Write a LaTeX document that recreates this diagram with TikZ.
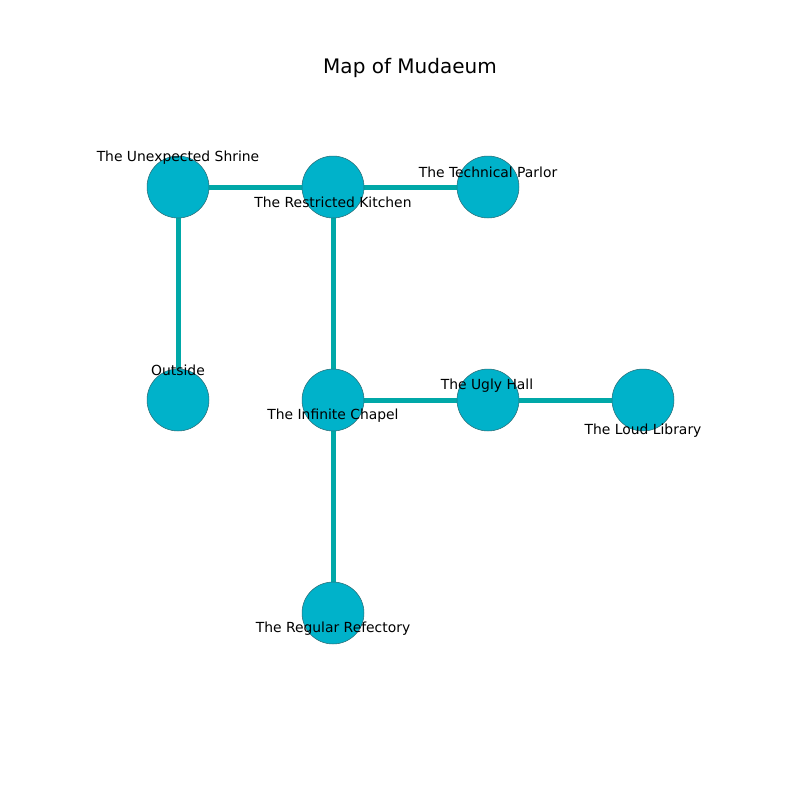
\documentclass[tikz,border=0pt]{standalone}
\usepackage{fontspec}
\setmainfont{DejaVu Sans}
\definecolor{nodefill}{RGB}{0,178,202}
\definecolor{edgecol}{RGB}{0,168,168}
\definecolor{nodeline}{RGB}{40,110,120}
\tikzset{
  room/.style={circle, fill=nodefill, draw=nodeline, line width=0.4pt, minimum size=44.6pt, inner sep=0pt},
  passage/.style={draw=edgecol, line width=3.6pt},
  lbl/.style={font=\fontsize{10}{12}\selectfont, inner sep=0pt, anchor=center},
}
\begin{document}
\begin{tikzpicture}[x=0.72pt, y=-0.72pt]
\useasboundingbox (0,0) rectangle (800,800);
\fill[white] (0,0) rectangle (800,800);
\node[font=\fontsize{14.4}{16}\selectfont, inner sep=0pt] (title) at (410,68) {Map of Mudaeum};
% nodes (coordinates first for edges)
\coordinate (shrine) at (178,187);
\coordinate (kitchen) at (333,187);
\coordinate (parlor) at (488,187);
\coordinate (outside) at (178,400);
\coordinate (chapel) at (333,400);
\coordinate (hall) at (488,400);
\coordinate (library) at (643,400);
\coordinate (refectory) at (333,613);
\draw[passage] (shrine) -- (kitchen);
\draw[passage] (kitchen) -- (parlor);
\draw[passage] (shrine) -- (outside);
\draw[passage] (kitchen) -- (chapel);
\draw[passage] (chapel) -- (hall);
\draw[passage] (hall) -- (library);
\draw[passage] (chapel) -- (refectory);
\node[room] (nshrine) at (shrine) {};
\node[room] (nkitchen) at (kitchen) {};
\node[room] (nparlor) at (parlor) {};
\node[room] (noutside) at (outside) {};
\node[room] (nchapel) at (chapel) {};
\node[room] (nhall) at (hall) {};
\node[room] (nlibrary) at (library) {};
\node[room] (nrefectory) at (refectory) {};
\node[lbl] (lshrine) at (178,157.5) {The Unexpected Shrine};
\node[lbl] (lkitchen) at (333,202.5) {The Restricted Kitchen};
\node[lbl] (lparlor) at (488,172.5) {The Technical Parlor};
\node[lbl] (loutside) at (178,370) {Outside};
\node[lbl] (lchapel) at (333,415.5) {The Infinite Chapel};
\node[lbl] (lhall) at (487,385.5) {The Ugly Hall};
\node[lbl] (llibrary) at (643,430.5) {The Loud Library};
\node[lbl] (lrefectory) at (333,628.5) {The Regular Refectory};
\end{tikzpicture}
\end{document}
